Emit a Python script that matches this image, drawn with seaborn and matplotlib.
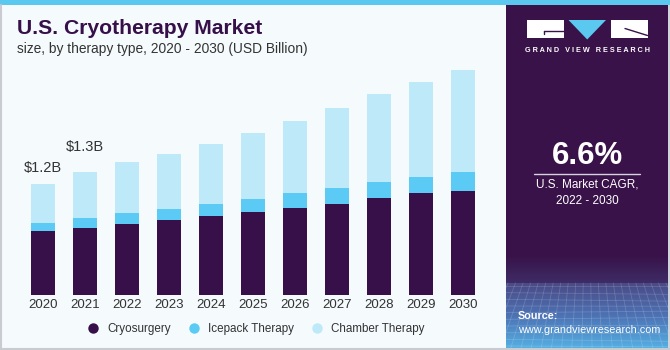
import numpy as np
import pandas as pd
import matplotlib
matplotlib.use("Agg")
import matplotlib.pyplot as plt
from matplotlib.patches import Rectangle, Polygon
from matplotlib.lines import Line2D
import seaborn as sns

# values (USD billion)
years = ['2020', '2021', '2022', '2023', '2024', '2025', '2026', '2027', '2028', '2029', '2030']
cryosurgery = [0.69, 0.72, 0.77, 0.81, 0.85, 0.90, 0.94, 0.99, 1.05, 1.10, 1.13]
icepack = [0.09, 0.11, 0.12, 0.12, 0.13, 0.14, 0.16, 0.17, 0.17, 0.18, 0.20]
chamber = [0.42, 0.50, 0.55, 0.60, 0.65, 0.71, 0.78, 0.86, 0.95, 1.03, 1.11]
series_names = ['Cryosurgery', 'Icepack Therapy', 'Chamber Therapy']
value_labels = {'2020': '$1.2B', '2021': '$1.3B'}

cagr_text = '6.6%'
cagr_caption = 'U.S. Market CAGR,\n2022 - 2030'

c_cryo = '#37104A'
c_ice = '#5BCBF5'
c_chamber = '#BDE9F9'
bg = '#F5FAFD'
panel = '#381248'

sns.set_theme(style='white')
plt.rcParams['font.family'] = ['Liberation Sans', 'DejaVu Sans']

df = pd.DataFrame({'year': years, 'cryo': cryosurgery, 'ice': icepack, 'chamber': chamber})
df['cryo_ice'] = df['cryo'] + df['ice']
df['total'] = df['cryo_ice'] + df['chamber']

fig = plt.figure(figsize=(6.7, 3.5), dpi=100)
fig.patch.set_facecolor(bg)

# background / decoration layer in pixel coords
deco = fig.add_axes([0, 0, 1, 1], zorder=0)
deco.set_xlim(0, 670)
deco.set_ylim(350, 0)
deco.axis('off')
deco.add_patch(Rectangle((0, 0), 670, 5, color='#5BC8F0', lw=0))
deco.add_patch(Rectangle((505.5, 5), 165, 345, color=panel, lw=0))
# gradient at the bottom of the side panel
grad = np.linspace(0, 1, 100)[:, None]
cmap1 = matplotlib.colors.LinearSegmentedColormap.from_list('p1', [panel, '#3f2c66'])
cmap2 = matplotlib.colors.LinearSegmentedColormap.from_list('p2', ['#4a4a86', '#4d72b4', '#55aee2'])
deco.imshow(grad, extent=(505.5, 668, 283, 255), aspect='auto', cmap=cmap1, zorder=1)
deco.imshow(grad, extent=(505.5, 668, 348, 283), aspect='auto', cmap=cmap2, zorder=1)
# faint grid texture
for k, yy in enumerate(np.linspace(286, 346, 10)):
    deco.plot([505.5, 668], [yy, yy + 2 * np.sin(k)], color='white', alpha=0.16, lw=0.6, zorder=2)
for xx in np.linspace(508, 666, 22):
    deco.plot([xx, xx + (xx - 587) * 0.35], [283, 348], color='white', alpha=0.16, lw=0.6, zorder=2)
deco.add_patch(Rectangle((668, 5), 2, 345, color='#d0d4da', lw=0, zorder=3))
deco.plot([0, 670], [348.5, 348.5], color='#c8cbd0', lw=1.5, zorder=3)
deco.plot([0.5, 0.5], [5, 350], color='#c8cbd0', lw=1.5, zorder=3)

# logo
deco.add_patch(Rectangle((527, 20), 36.5, 18, color='white', lw=0, zorder=3))
deco.plot([544, 563.5], [31, 31], color=panel, lw=1, zorder=4)
deco.plot([544, 544], [31, 34], color=panel, lw=1, zorder=4)
deco.add_patch(Polygon([(568.5, 20), (606, 20), (587.2, 39.5)], color='#5BC8F0', lw=0, zorder=3))
deco.add_patch(Rectangle((610.5, 20), 37, 18, color='white', lw=0, zorder=3))
deco.plot([625, 647.5], [28.5, 35.5], color=panel, lw=1, zorder=4)
deco.text(587.5, 51, 'G R A N D   V I E W   R E S E A R C H', color='white', fontsize=5.2,
          fontweight='bold', ha='center', va='center', zorder=4)

deco.text(587.5, 156, cagr_text, color='white', fontsize=22.5, fontweight='bold',
          ha='center', va='center', zorder=4)
deco.plot([534, 640], [173.5, 173.5], color='#d8d3de', lw=1, zorder=4)
deco.text(587.5, 193, cagr_caption, color='white', fontsize=8.5, ha='center', va='center',
          linespacing=1.45, zorder=4)
deco.text(518, 316, 'Source:', color='white', fontsize=7.8, fontweight='bold',
          ha='left', va='center', zorder=4)
deco.text(518, 330, 'www.grandviewresearch.com', color='white', fontsize=7.8,
          ha='left', va='center', zorder=4)

# title
deco.text(17, 29, 'U.S. Cryotherapy Market', color=c_cryo, fontsize=15.2, fontweight='heavy',
          ha='left', va='center', zorder=4)
deco.text(17, 48.5, 'size, by therapy type, 2020 - 2030 (USD Billion)', color='#333333',
          fontsize=9.9, ha='left', va='center', zorder=4)

# chart
ax = fig.add_axes([17.8 / 670, 55 / 350, 470.4 / 670, 231 / 350], zorder=2)
ax.patch.set_alpha(0)
sns.barplot(data=df, x='year', y='total', color=c_chamber, saturation=1, width=0.57,
            linewidth=0, ax=ax)
sns.barplot(data=df, x='year', y='cryo_ice', color=c_ice, saturation=1, width=0.57,
            linewidth=0, ax=ax)
sns.barplot(data=df, x='year', y='cryo', color=c_cryo, saturation=1, width=0.57,
            linewidth=0, ax=ax)
ax.set_xlim(-0.6, 10.6)
ax.set_ylim(0, 2.5)
ax.set_xlabel('')
ax.set_ylabel('')
ax.set_yticks([])
ax.tick_params(axis='x', length=0, pad=3, labelsize=9.5, labelcolor='#333333')
sns.despine(ax=ax, left=True, bottom=True)

offsets = {'2020': 0.17, '2021': 0.27}
for i, y in enumerate(years):
    if y in value_labels:
        ax.text(i, df['total'][i] + offsets[y], value_labels[y], ha='center', va='center',
                fontsize=10.5, color='#333333')

handles = [Line2D([], [], marker='o', ls='', markersize=7.5, markerfacecolor=c, markeredgewidth=0)
           for c in (c_cryo, c_ice, c_chamber)]
fig.legend(handles, series_names, loc='center', bbox_to_anchor=(0.378, 0.06), ncol=3,
           frameon=False, fontsize=8.4, handletextpad=0.2, columnspacing=1.0,
           labelcolor='#333333')

fig.savefig('out.png', dpi=100, facecolor=fig.get_facecolor())
